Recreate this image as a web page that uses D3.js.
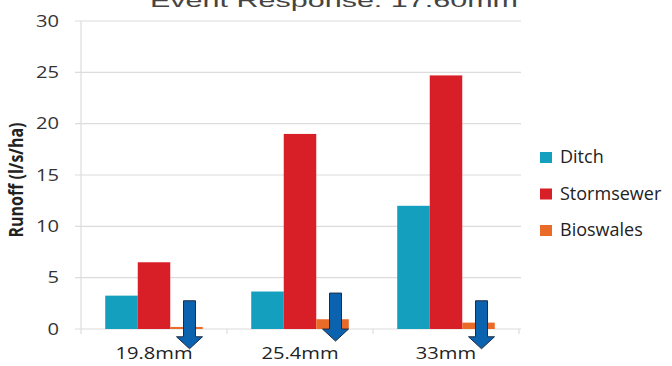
<!DOCTYPE html>
<html><head><meta charset="utf-8">
<script src="https://cdn.jsdelivr.net/npm/d3@7"></script>
<style>body{margin:0;background:#fff}svg{display:block}</style>
</head><body><svg id="c" width="672" height="366"></svg>
<script>
const title = "Event Response: 17.60mm";
const categories = ["19.8mm", "25.4mm", "33mm"];
const seriesNames = ["Ditch", "Stormsewer", "Bioswales"];
const ditch = [3.25, 3.65, 12.0];
const stormsewer = [6.5, 19.0, 24.7];
const bioswales = [0.2, 0.95, 0.62];
const arrowTops = [2.75, 3.5, 2.75];
const yTicks = [0, 5, 10, 15, 20, 25, 30];
const colors = ["#139fbd", "#d81f27", "#ea6a28"];

const svg = d3.select("#c");
const font = "'Open Sans', sans-serif";
const SX = 1.3;
const x0 = 81, x1 = 519, yTop = 21, yBot = 329;
const x = d3.scaleBand().domain(categories).range([x0, x1]).paddingInner(0).paddingOuter(0);
const xs = d3.scaleBand().domain(seriesNames).range([0, x.bandwidth()]).paddingOuter(0.745).paddingInner(0);
const y = d3.scaleLinear().domain([0, 30]).range([yBot, yTop]);

// gridlines
svg.append("g").selectAll("line").data(yTicks).join("line")
  .attr("x1", x0 - 6).attr("x2", x1 + 2)
  .attr("y1", d => y(d)).attr("y2", d => y(d))
  .attr("stroke", "#dcdcdc").attr("stroke-width", 1.2);
svg.append("line").attr("x1", x0).attr("x2", x0).attr("y1", yTop).attr("y2", yBot + 5)
  .attr("stroke", "#dcdcdc").attr("stroke-width", 1.2);
svg.append("g").selectAll("line").data(categories).join("line")
  .attr("x1", d => x(d) + x.bandwidth()).attr("x2", d => x(d) + x.bandwidth())
  .attr("y1", yBot).attr("y2", yBot + 5)
  .attr("stroke", "#dcdcdc").attr("stroke-width", 1.2);

// y tick labels (horizontally stretched like the reference)
svg.append("g").selectAll("g").data(yTicks).join("g")
  .attr("transform", d => `translate(59,${y(d) + 5.5}) scale(${SX},1)`)
  .append("text").attr("text-anchor", "end")
  .attr("font-family", font).attr("font-size", 15.5).attr("fill", "#333").text(d => d);

// y label
svg.append("g").attr("transform", "translate(23,180) scale(1.2,1) rotate(-90)")
  .append("text").attr("text-anchor", "middle").attr("font-family", font).attr("font-weight", "bold")
  .attr("font-size", 16).attr("fill", "#222").text("Runoff (l/s/ha)");

// bars
const data = [ditch, stormsewer, bioswales];
data.forEach((vals, si) => {
  svg.append("g").selectAll("rect").data(categories).join("rect")
    .attr("x", c => x(c) + xs(seriesNames[si]))
    .attr("width", xs.bandwidth())
    .attr("y", (c, i) => y(vals[i]))
    .attr("height", (c, i) => yBot - y(vals[i]))
    .attr("fill", colors[si]);
});

// x labels
svg.append("g").selectAll("g").data(categories).join("g")
  .attr("transform", d => `translate(${x(d) + x.bandwidth() / 2},359) scale(${SX},1)`)
  .append("text").attr("text-anchor", "middle")
  .attr("font-family", font).attr("font-size", 15.5).attr("fill", "#222").text(d => d);

// arrows
const arrowPath = (cx, top) => {
  const sw = 6, hw = 13, len = 48, hl = 12;
  return `M${cx - sw},${top} L${cx + sw},${top} L${cx + sw},${top + len - hl} L${cx + hw},${top + len - hl} L${cx},${top + len} L${cx - hw},${top + len - hl} L${cx - sw},${top + len - hl} Z`;
};
svg.append("g").selectAll("path").data(categories).join("path")
  .attr("d", (c, i) => arrowPath(x(c) + xs("Bioswales") + xs.bandwidth() / 2 + 3, y(arrowTops[i])))
  .attr("fill", "#0b63b0").attr("stroke", "#1d2b45").attr("stroke-width", 1);

// legend
const lg = svg.append("g").selectAll("g").data(seriesNames).join("g")
  .attr("transform", (d, i) => `translate(540,${152 + i * 36.5})`);
lg.append("rect").attr("width", 12).attr("height", 11).attr("fill", (d, i) => colors[i]);
lg.append("text").attr("x", 20).attr("y", 11).attr("font-family", font).attr("font-size", 18)
  .attr("fill", "#222").text(d => d);

// title (cropped at top like the reference)
svg.append("text").attr("x", 334).attr("y", 7).attr("text-anchor", "middle")
  .attr("font-family", "'Liberation Sans', Arial, sans-serif").attr("font-size", 19)
  .attr("textLength", 368).attr("lengthAdjust", "spacingAndGlyphs")
  .attr("fill", "#444").text(title);
</script></body></html>
